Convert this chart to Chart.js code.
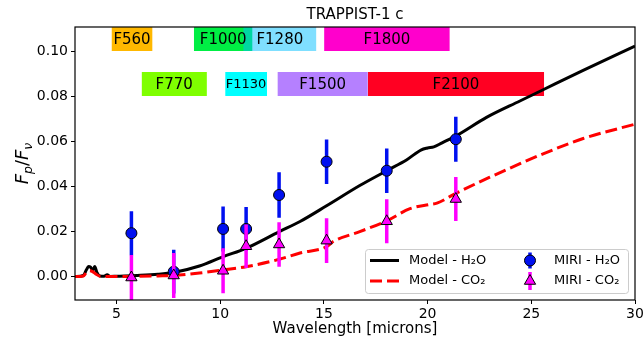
<!DOCTYPE html>
<html><head><meta charset="utf-8">
<script src="https://cdn.jsdelivr.net/npm/chart.js@4"></script>
<style>html,body{margin:0;padding:0;background:#fff}</style>
</head><body>
<canvas id="c" width="644" height="343" style="width:644px;height:343px;display:block"></canvas>
<script>
// ---------- data ----------
const modelWlH2O = [3.0,3.4,3.55,3.65,3.75,3.85,3.95,4.05,4.2,4.4,4.55,4.7,5.0,6.0,7.0,7.75,9.0,10.15,11.25,12.85,13.85,15.13,16.73,18.05,19.0,19.7,20.0,20.3,20.7,21.36,22.84,24.45,25.57,27.5,30.0];
const modelH2O   = [0.0,0.0005,0.003,0.0045,0.0042,0.0028,0.0045,0.002,0.0003,0.0002,0.0008,0.0001,0.0002,0.0005,0.001,0.0018,0.0047,0.0089,0.0126,0.0200,0.0245,0.0315,0.0405,0.0472,0.0520,0.0564,0.0572,0.0577,0.0595,0.0625,0.0708,0.0781,0.0831,0.0917,0.1025];

const modelWlCO2 = [3.0,3.4,3.55,3.7,3.85,4.0,4.2,5.0,6.0,7.0,7.75,9.0,10.15,11.25,12.85,13.85,15.13,15.45,16.73,18.05,19.15,20.1,20.45,21.36,23.0,25.57,27.5,30.0];
const modelCO2   = [0.0,0.0003,0.0018,0.0026,0.0022,0.0012,0.0002,0.0,0.0001,0.0003,0.0005,0.0016,0.0030,0.0044,0.0077,0.0105,0.0133,0.0156,0.0200,0.0249,0.0302,0.0321,0.0327,0.0370,0.0442,0.0546,0.0614,0.0678];

const miriWl     = [5.72, 7.76, 10.14, 11.25, 12.84, 15.13, 18.03, 21.36];
const miriH2O    = [0.0193, 0.0022, 0.0212, 0.0212, 0.0363, 0.0511, 0.0471, 0.0611];
const miriH2OErr = [0.0098, 0.0097, 0.0100, 0.0098, 0.0101, 0.0099, 0.0099, 0.0100];
const miriCO2    = [-0.0004, 0.0005, 0.0026, 0.0135, 0.0143, 0.0160, 0.0246, 0.0345];
const miriCO2Err = [0.0100, 0.0100, 0.0100, 0.0097, 0.0099, 0.0100, 0.0098, 0.0098];

const filterNames = ['F560','F1000','F1280','F1800','F770','F1130','F1500','F2100'];
const filterStart = [4.76, 8.73, 11.11, 15.01, 6.21, 10.24, 12.76, 17.12];
const filterEnd   = [6.74, 11.56, 14.64, 21.07, 9.36, 12.26, 17.12, 25.62];
const filterLow   = [0.1003, 0.1003, 0.1003, 0.1003, 0.0803, 0.0803, 0.0803, 0.0803];
const filterHigh  = [0.111, 0.111, 0.111, 0.111, 0.091, 0.091, 0.091, 0.091];

const yTicks = [0.00, 0.02, 0.04, 0.06, 0.08, 0.10];
const xTicks = [5, 10, 15, 20, 25, 30];

// ---------- styles ----------
const filterColors = ['#FFB800','#00EE44','rgba(0,191,255,0.5)','#FF00CC','#7FFF00','#00FFFF','#B580FF','#FF0022'];
const filterFontPx = [15,15,15,15,15,13,15,15];
const FONT = '"DejaVu Sans", "Liberation Sans", sans-serif';

// ---------- datasets ----------
const datasets = [];
filterNames.forEach((n, i) => {
  datasets.push({
    label: n,
    data: [{x: filterStart[i], y: filterHigh[i]}, {x: filterEnd[i], y: filterHigh[i]}],
    showLine: true, borderWidth: 0, borderColor: 'rgba(0,0,0,0)',
    backgroundColor: filterColors[i], fill: {value: filterLow[i]},
    pointRadius: 0, order: 100 - i
  });
});
datasets.push({
  label: 'Model - H2O', data: modelWlH2O.map((w, i) => ({x: w, y: modelH2O[i]})),
  showLine: true, borderColor: '#000', borderWidth: 3, pointRadius: 0, fill: false,
  cubicInterpolationMode: 'monotone', order: 60
});
datasets.push({
  label: 'Model - CO2', data: modelWlCO2.map((w, i) => ({x: w, y: modelCO2[i]})),
  showLine: true, borderColor: '#FF0000', borderWidth: 3, borderDash: [12, 5], pointRadius: 0, fill: false,
  cubicInterpolationMode: 'monotone', order: 55
});
function errData(vals, errs) {
  const out = [];
  miriWl.forEach((w, i) => {
    out.push({x: w, y: vals[i] - errs[i]}, {x: w, y: vals[i] + errs[i]}, {x: w, y: null});
  });
  return out;
}
datasets.push({
  label: 'errH2O', data: errData(miriH2O, miriH2OErr), showLine: true, spanGaps: false,
  borderColor: '#0010F0', borderWidth: 3.5, borderCapStyle: 'butt', pointRadius: 0, fill: false, order: 40
});
datasets.push({
  label: 'MIRI - H2O', data: miriWl.map((w, i) => ({x: w, y: miriH2O[i]})), showLine: false,
  pointStyle: 'circle', pointRadius: 5.5, pointBackgroundColor: '#0010F0', pointBorderColor: '#000',
  pointBorderWidth: 1, order: 30
});
datasets.push({
  label: 'errCO2', data: errData(miriCO2, miriCO2Err), showLine: true, spanGaps: false,
  borderColor: '#FF00FF', borderWidth: 3.5, borderCapStyle: 'butt', pointRadius: 0, fill: false, order: 20
});
datasets.push({
  label: 'MIRI - CO2', data: miriWl.map((w, i) => ({x: w, y: miriCO2[i]})), showLine: false,
  pointStyle: 'triangle', pointRadius: 6.5, pointBackgroundColor: '#FF00FF', pointBorderColor: '#000',
  pointBorderWidth: 1, order: 10
});

// ---------- decorations ----------
function roundRect(ctx, x, y, w, h, r) {
  ctx.beginPath();
  ctx.moveTo(x + r, y); ctx.lineTo(x + w - r, y); ctx.arcTo(x + w, y, x + w, y + r, r);
  ctx.lineTo(x + w, y + h - r); ctx.arcTo(x + w, y + h, x + w - r, y + h, r);
  ctx.lineTo(x + r, y + h); ctx.arcTo(x, y + h, x, y + h - r, r);
  ctx.lineTo(x, y + r); ctx.arcTo(x, y, x + r, y, r); ctx.closePath();
}
const decor = {
  id: 'decor',
  afterDatasetsDraw(chart) {
    const {ctx, scales: {x, y}} = chart;
    ctx.save();
    ctx.fillStyle = '#000'; ctx.textAlign = 'center'; ctx.textBaseline = 'middle';
    filterNames.forEach((n, i) => {
      ctx.font = filterFontPx[i] + 'px ' + FONT;
      const cx = (x.getPixelForValue(filterStart[i]) + x.getPixelForValue(filterEnd[i])) / 2;
      const cy = (y.getPixelForValue(filterLow[i]) + y.getPixelForValue(filterHigh[i])) / 2;
      ctx.fillText(n, cx, cy + 1);
    });
    ctx.restore();
  },
  afterDraw(chart) {
    const {ctx, chartArea: a} = chart;
    ctx.save();
    // frame
    ctx.strokeStyle = '#000'; ctx.lineWidth = 1.2;
    ctx.strokeRect(a.left, a.top, a.right - a.left, a.bottom - a.top);
    // title
    ctx.fillStyle = '#000'; ctx.textAlign = 'center'; ctx.textBaseline = 'middle';
    ctx.font = '15px ' + FONT;
    ctx.fillText('TRAPPIST-1 c', (a.left + a.right) / 2, 15);
    // y label F_p/F_nu
    ctx.save();
    ctx.translate(21, (a.top + a.bottom) / 2);
    ctx.rotate(-Math.PI / 2);
    const parts = [['F', 'italic 18px', 0], ['p', 'italic 12.5px', 4], ['/', '18px', 0], ['F', 'italic 18px', 0], ['ν', 'italic 12.5px', 4]];
    let tot = 0;
    parts.forEach(p => { ctx.font = p[1] + ' ' + FONT; tot += ctx.measureText(p[0]).width; });
    let px = -tot / 2;
    ctx.textAlign = 'left'; ctx.textBaseline = 'alphabetic';
    parts.forEach(p => { ctx.font = p[1] + ' ' + FONT; ctx.fillText(p[0], px, 6.5 + p[2]); px += ctx.measureText(p[0]).width; });
    ctx.restore();
    // legend
    const lx = a.right - 270, ly = a.bottom - 51, lw = 263, lh = 44;
    roundRect(ctx, lx + 0.5, ly + 0.5, lw, lh, 3);
    ctx.fillStyle = 'rgba(255,255,255,0.8)'; ctx.fill();
    ctx.strokeStyle = '#CCCCCC'; ctx.lineWidth = 1; ctx.stroke();
    const r1 = ly + 11.5, r2 = ly + 32;
    ctx.lineWidth = 3;
    ctx.strokeStyle = '#000'; ctx.setLineDash([]);
    ctx.beginPath(); ctx.moveTo(lx + 5, r1); ctx.lineTo(lx + 34, r1); ctx.stroke();
    ctx.strokeStyle = '#FF0000'; ctx.setLineDash([12, 5]);
    ctx.beginPath(); ctx.moveTo(lx + 5, r2); ctx.lineTo(lx + 34, r2); ctx.stroke();
    ctx.setLineDash([]);
    const mx = lx + 165;
    ctx.lineWidth = 3.5;
    ctx.strokeStyle = '#0010F0';
    ctx.beginPath(); ctx.moveTo(mx, r1 - 8); ctx.lineTo(mx, r1 + 8); ctx.stroke();
    ctx.beginPath(); ctx.arc(mx, r1, 5.5, 0, Math.PI * 2);
    ctx.fillStyle = '#0010F0'; ctx.fill(); ctx.lineWidth = 1; ctx.strokeStyle = '#000'; ctx.stroke();
    ctx.lineWidth = 3.5; ctx.strokeStyle = '#FF00FF';
    ctx.beginPath(); ctx.moveTo(mx, r2 - 9); ctx.lineTo(mx, r2 + 9); ctx.stroke();
    ctx.beginPath();
    const tr = 6.5;
    ctx.moveTo(mx, r2 - tr);
    ctx.lineTo(mx + Math.sin(2 * Math.PI / 3) * tr, r2 - Math.cos(2 * Math.PI / 3) * tr);
    ctx.lineTo(mx + Math.sin(4 * Math.PI / 3) * tr, r2 - Math.cos(4 * Math.PI / 3) * tr);
    ctx.closePath();
    ctx.fillStyle = '#FF00FF'; ctx.fill(); ctx.lineWidth = 1; ctx.strokeStyle = '#000'; ctx.stroke();
    ctx.fillStyle = '#000'; ctx.font = '13px ' + FONT; ctx.textAlign = 'left'; ctx.textBaseline = 'middle';
    ctx.fillText('Model - H₂O', lx + 44, r1);
    ctx.fillText('Model - CO₂', lx + 44, r2);
    ctx.fillText('MIRI - H₂O', lx + 189, r1);
    ctx.fillText('MIRI - CO₂', lx + 189, r2);
    ctx.restore();
  }
};

new Chart(document.getElementById('c'), {
  type: 'scatter',
  data: {datasets},
  options: {
    responsive: false, devicePixelRatio: 1, animation: false, events: [],
    layout: {padding: {top: 27, right: 9, left: 0, bottom: 0}},
    elements: {line: {tension: 0}},
    plugins: {legend: {display: false}, tooltip: {enabled: false}, title: {display: false}},
    scales: {
      x: {
        type: 'linear', min: 3, max: 30,
        afterBuildTicks: s => { s.ticks = xTicks.map(v => ({value: v})); },
        afterFit: s => { s.height = 43; s.paddingLeft = 0; s.paddingRight = 0; },
        ticks: {color: '#000', font: {family: FONT, size: 14}, padding: 2, maxRotation: 0, autoSkip: false,
                callback: v => String(v)},
        grid: {display: true, drawOnChartArea: false, drawTicks: true, tickLength: 4, color: '#000', lineWidth: 1},
        border: {display: false},
        title: {display: true, text: 'Wavelength [microns]', color: '#000', font: {family: FONT, size: 15}, padding: {top: 0, bottom: 5}}
      },
      y: {
        type: 'linear', min: -0.0104, max: 0.111,
        afterBuildTicks: s => { s.ticks = yTicks.map(v => ({value: v})); },
        afterFit: s => { s.width = 75; s.paddingTop = 0; s.paddingBottom = 0; },
        ticks: {color: '#000', font: {family: FONT, size: 14}, padding: 3, autoSkip: false,
                callback: v => Number(v).toFixed(2)},
        grid: {display: true, drawOnChartArea: false, drawTicks: true, tickLength: 4, color: '#000', lineWidth: 1},
        border: {display: false}
      }
    }
  },
  plugins: [decor]
});
</script>
</body></html>
